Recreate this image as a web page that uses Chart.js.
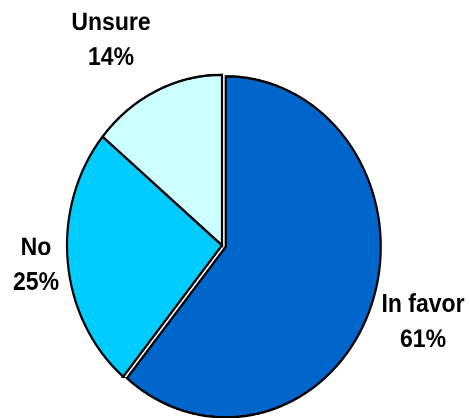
<!DOCTYPE html>
<html>
<head>
<meta charset="utf-8">
<script src="https://cdn.jsdelivr.net/npm/chart.js@4/dist/chart.umd.min.js"></script>
<style>
  html, body { margin: 0; padding: 0; background: #ffffff; overflow: hidden; }
  #wrap { position: absolute; left: 0; top: 0; width: 470px; height: 380px;
          transform: scaleY(1.1); transform-origin: 0 0; }
</style>
</head>
<body>
<div id="wrap"><canvas id="c" width="470" height="380"></canvas></div>
<script>
const categories = ['In favor', 'No', 'Unsure'];
const values = [61, 25, 14];
const sliceColors = ['#0066CC', '#00CCFF', '#CCFFFF'];
const sliceExplode = [4, 0, 0];   // px pulled out along the slice's mid-angle

// label anchor (centre x, first baseline y) for each category, in canvas px
const labelPlacement = {
  'In favor': { x: 423, y: 283.5 },
  'No':       { x: 36,  y: 231.8 },
  'Unsure':   { x: 111, y: 27.3 }
};

const explodePlugin = {
  id: 'explodeSlices',
  afterDatasetUpdate(chart, args) {
    const meta = args.meta;
    meta.data.forEach((arc, i) => {
      const d = sliceExplode[i] || 0;
      if (!d) return;
      const mid = (arc.startAngle + arc.endAngle) / 2;
      arc.x += d * Math.cos(mid);
      arc.y += d * Math.sin(mid);
    });
  }
};

const labelPlugin = {
  id: 'outsideLabels',
  afterDatasetsDraw(chart) {
    const ctx = chart.ctx;
    const meta = chart.getDatasetMeta(0);
    ctx.save();
    ctx.fillStyle = '#000000';
    ctx.font = 'bold 23px "Liberation Sans", Arial, sans-serif';
    ctx.textAlign = 'center';
    ctx.textBaseline = 'alphabetic';
    meta.data.forEach((arc, i) => {
      const name = chart.data.labels[i];
      const p = labelPlacement[name];
      const v = chart.data.datasets[0].data[i];
      ctx.fillText(name, p.x, p.y);
      ctx.fillText(v + '%', p.x, p.y + 31.8);
    });
    ctx.restore();
  }
};

new Chart(document.getElementById('c'), {
  type: 'pie',
  data: {
    labels: categories,
    datasets: [{
      data: values,
      backgroundColor: sliceColors,
      borderColor: '#000000',
      borderWidth: 2.2,
      borderJoinStyle: 'miter',
      offset: 0,
      hoverOffset: 0
    }]
  },
  options: {
    responsive: false,
    animation: false,
    devicePixelRatio: 2,
    events: [],
    radius: 155,
    layout: { padding: { left: 0, right: 26, top: 66, bottom: 0 } },
    plugins: {
      legend: { display: false },
      tooltip: { enabled: false },
      title: { display: false }
    }
  },
  plugins: [explodePlugin, labelPlugin]
});
</script>
</body>
</html>
